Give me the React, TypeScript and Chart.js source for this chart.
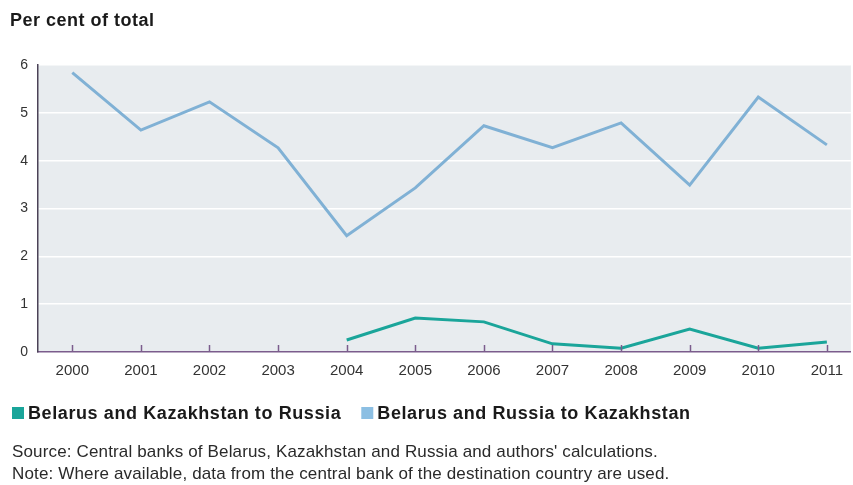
import React, { useEffect, useRef } from "react";
import { Chart, registerables } from "chart.js";

Chart.register(...registerables);

const years = [2000, 2001, 2002, 2003, 2004, 2005, 2006, 2007, 2008, 2009, 2010, 2011];
const toKazakhstan = [5.84, 4.64, 5.23, 4.27, 2.43, 3.43, 4.73, 4.27, 4.79, 3.49, 5.33, 4.33];
const toRussia = [null, null, null, null, 0.25, 0.71, 0.63, 0.17, 0.08, 0.48, 0.08, 0.21];
const yTicks = [0, 1, 2, 3, 4, 5, 6];
const titleText = "Per cent of total";
const seriesNames = ["Belarus and Kazakhstan to Russia", "Belarus and Russia to Kazakhstan"];
const noteLines = [
  "Source: Central banks of Belarus, Kazakhstan and Russia and authors' calculations.",
  "Note: Where available, data from the central bank of the destination country are used.",
];

const TEAL = "#1aa59a";
const BLUE = "#80b1d5";
const FONT = "'Liberation Sans', Arial, sans-serif";

const decorPlugin = {
  id: "decor",
  beforeDraw(chart: any) {
    const { ctx, chartArea } = chart;
    ctx.save();
    ctx.fillStyle = "#e8ecef";
    ctx.fillRect(chartArea.left, chartArea.top, chartArea.right - chartArea.left, chartArea.bottom - chartArea.top);
    ctx.restore();
  },
  afterDatasetsDraw(chart: any) {
    const { ctx, chartArea } = chart;
    const xs = chart.scales.x;
    ctx.save();
    ctx.strokeStyle = "#7b5c8c";
    ctx.lineWidth = 1.5;
    years.forEach((yr) => {
      const px = Math.round(xs.getPixelForValue(yr)) + 0.5;
      ctx.beginPath();
      ctx.moveTo(px, chartArea.bottom - 7);
      ctx.lineTo(px, chartArea.bottom);
      ctx.stroke();
    });
    ctx.restore();
  },
  afterDraw(chart: any) {
    const { ctx } = chart;
    ctx.save();
    ctx.fillStyle = "#1a1a1a";
    ctx.textBaseline = "middle";
    ctx.textAlign = "left";
    ctx.font = `bold 18px ${FONT}`;
    (ctx as any).letterSpacing = "0.5px";
    ctx.fillText(titleText, 10, 21);

    // legend
    ctx.font = `bold 18px ${FONT}`;
    (ctx as any).letterSpacing = "0.6px";
    let x = 12;
    chart.data.datasets.forEach((ds: any, i: number) => {
      ctx.fillStyle = i === 0 ? TEAL : "#8cbfe3";
      ctx.fillRect(x, 407, 12, 12);
      ctx.fillStyle = "#1a1a1a";
      ctx.fillText(ds.label, x + 16, 414);
      x += 16 + ctx.measureText(ds.label).width + 20;
    });

    ctx.font = `17px ${FONT}`;
    (ctx as any).letterSpacing = "0.15px";
    ctx.fillStyle = "#2a2a2a";
    noteLines.forEach((t, i) => ctx.fillText(t, 12, 452 + i * 22));
    (ctx as any).letterSpacing = "0px";
    ctx.restore();
  },
};

export default function App() {
  const ref = useRef<HTMLCanvasElement>(null);
  useEffect(() => {
    document.body.style.margin = "0";
    const chart = new Chart(ref.current!, {
      type: "line",
      data: {
        datasets: [
          {
            label: seriesNames[0],
            data: years.map((y, i) => ({ x: y, y: toRussia[i] })) as any,
            borderColor: TEAL,
            backgroundColor: TEAL,
            borderWidth: 3,
            pointRadius: 0,
            tension: 0,
            spanGaps: false,
          },
          {
            label: seriesNames[1],
            data: years.map((y, i) => ({ x: y, y: toKazakhstan[i] })),
            borderColor: BLUE,
            backgroundColor: BLUE,
            borderWidth: 3,
            pointRadius: 0,
            tension: 0,
          },
        ],
      },
      options: {
        animation: false,
        responsive: false,
        layout: { padding: { top: 65, left: 0, right: 0, bottom: 0 } },
        plugins: { legend: { display: false }, title: { display: false }, tooltip: { enabled: false } },
        scales: {
          x: {
            type: "linear",
            min: 1999.5,
            max: 2011.35,
            afterBuildTicks: (s: any) => {
              s.ticks = years.map((v) => ({ value: v }));
            },
            afterFit: (s: any) => {
              s.height = 133;
            },
            grid: { display: false, drawTicks: false },
            border: { display: true, color: "#7b5c8c", width: 1.5 },
            ticks: {
              color: "#333",
              font: { family: FONT, size: 15 },
              padding: 10,
              maxRotation: 0,
              autoSkip: false,
              callback: (v: any) => String(v),
            },
          },
          y: {
            min: 0,
            max: 6,
            afterBuildTicks: (s: any) => {
              s.ticks = yTicks.map((v) => ({ value: v }));
            },
            afterFit: (s: any) => {
              s.width = 38;
            },
            grid: { color: "#ffffff", lineWidth: 1.5, drawTicks: false },
            border: { display: true, color: "#4b4257", width: 1.5 },
            ticks: {
              color: "#333",
              font: { family: FONT, size: 14 },
              padding: 10,
              callback: (v: any) => String(v),
            },
          },
        },
      },
      plugins: [decorPlugin],
    });
    return () => chart.destroy();
  }, []);
  return (
    <div style={{ position: "absolute", left: 0, top: 0, width: 853, height: 485, background: "#fff" }}>
      <canvas ref={ref} width={853} height={485} />
    </div>
  );
}
